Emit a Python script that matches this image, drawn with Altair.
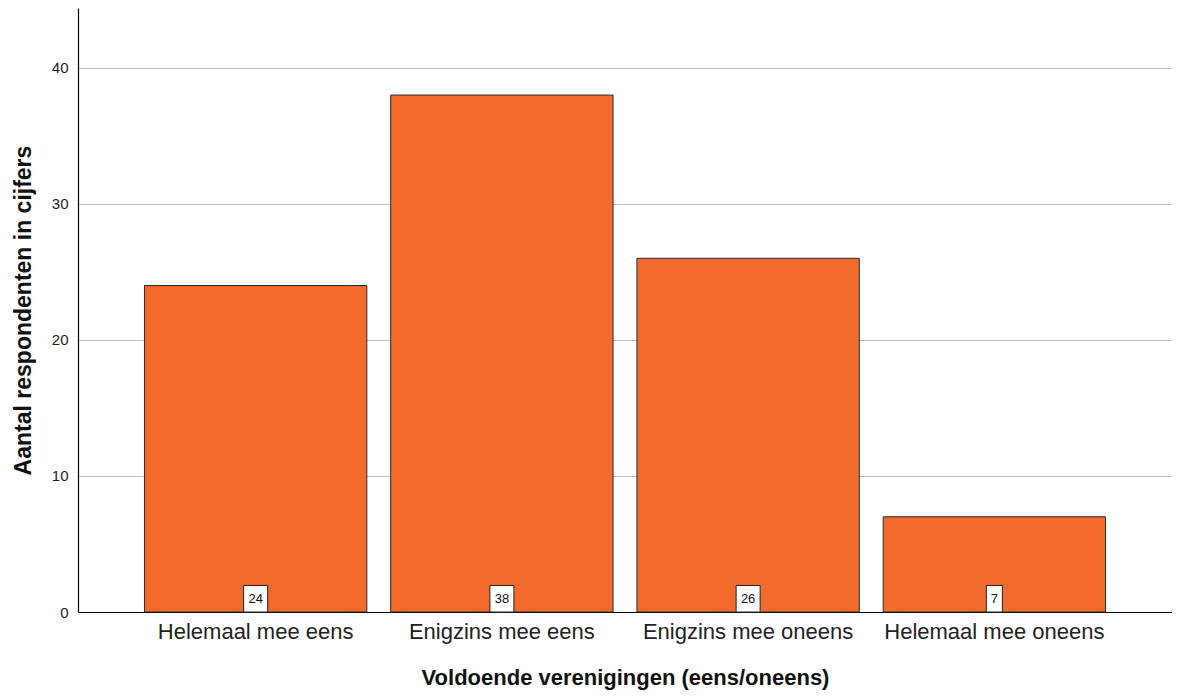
import altair as alt
import pandas as pd

categories = ["Helemaal mee eens", "Enigzins mee eens", "Enigzins mee oneens", "Helemaal mee oneens"]
counts = [24, 38, 26, 7]

df = pd.DataFrame({"cat": categories, "n": counts})
df["lbl"] = df["n"].astype(str)
df["boxw"] = df["lbl"].str.len() * 8 + 8
df["zero"] = 0
df["boxtop"] = 1.95
df["mid"] = 0.98

FONT = "Liberation Sans"
xsc = alt.Scale(domain=categories, paddingInner=0.097, paddingOuter=0.27)
ysc = alt.Scale(domain=[0, 44.4], nice=False)

base = alt.Chart(df)

bars = base.mark_bar(color="#F26A2C", stroke="#2b2b2b", strokeWidth=1).encode(
    x=alt.X("cat:N", scale=xsc, sort=categories,
            axis=alt.Axis(title="Voldoende verenigingen (eens/oneens)", labelAngle=0,
                          labelFontSize=22, labelFont=FONT, labelColor="#222", labelLimit=0,
                          titleFont=FONT, titleFontSize=22, titleFontWeight="bold",
                          titleColor="#111", labelPadding=9, titlePadding=25,
                          ticks=False, domainColor="#000", domainWidth=1.2)),
    y=alt.Y("n:Q", scale=ysc,
            axis=alt.Axis(title="Aantal respondenten in cijfers", values=[0, 10, 20, 30, 40],
                          labelFontSize=15, labelFont=FONT, labelColor="#222",
                          titleFont=FONT, titleFontSize=23, titleFontWeight="bold",
                          titleColor="#111", titlePadding=16, ticks=False,
                          labelPadding=10, domainColor="#000", domainWidth=1.2,
                          gridColor="#c0c0c0", gridWidth=1)),
)

boxes = base.mark_bar(color="white", stroke="#222", strokeWidth=1).encode(
    x=alt.X("cat:N", scale=xsc, sort=categories),
    y=alt.Y("zero:Q", scale=ysc),
    y2="boxtop:Q",
    size=alt.Size("boxw:Q", scale=None, legend=None),
)

texts = base.mark_text(font=FONT, fontSize=13, color="#111", baseline="middle").encode(
    x=alt.X("cat:N", scale=xsc, sort=categories),
    y=alt.Y("mid:Q", scale=ysc),
    text="lbl:N",
)

chart = alt.layer(bars, boxes, texts).properties(
    width=1094, height=604,
    autosize=alt.AutoSizeParams(type="none"),
    padding={"left": 70, "top": 0, "right": 0, "bottom": 84},
).configure_view(stroke=None).configure_axis(labelFont=FONT, titleFont=FONT)

chart.save("out.html", embed_options={"renderer": "svg", "actions": False})
